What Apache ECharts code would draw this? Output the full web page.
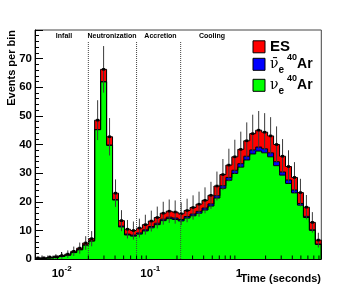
<!DOCTYPE html>
<html>
<head>
<meta charset="utf-8">
<script src="https://cdn.jsdelivr.net/npm/echarts@6/dist/echarts.min.js"></script>
<style>
html,body{margin:0;padding:0;background:#ffffff;}
#c{width:357px;height:302px;}
</style>
</head>
<body>
<div id="c"></div>
<script>
// ---- data ----
// bin edges of the log-spaced time histogram (seconds)
const binEdges = [0.005, 0.005838, 0.006817, 0.007960, 0.009294, 0.01085, 0.01267, 0.01479, 0.01727, 0.02017,
  0.02355, 0.02750, 0.03211, 0.03749, 0.04378, 0.05111, 0.05968, 0.06969, 0.08137, 0.09501,
  0.1109, 0.1295, 0.1512, 0.1766, 0.2062, 0.2408, 0.2811, 0.3282, 0.3833, 0.4475,
  0.5225, 0.6101, 0.7124, 0.8318, 0.9712, 1.134, 1.324, 1.546, 1.805, 2.108,
  2.461, 2.874, 3.356, 3.918, 4.575, 5.342, 6.237, 7.283, 8.503];
// events per bin, nu_e 40Ar (green)
const nueAr = [0.25, 0.25, 0.45, 0.6, 0.9, 1.35, 2.25, 3.25, 4.9, 6.3,
  45.2, 61.9, 39.7, 20.6, 11.2, 8.4, 8.0, 8.7, 9.8, 10.9,
  12.0, 13.4, 14.1, 13.8, 13.3, 14.3, 15.1, 16.0, 17.1, 18.5,
  21.3, 24.7, 27.5, 29.9, 32.1, 34.6, 36.7, 37.7, 37.1, 35.7,
  32.6, 29.3, 26.4, 23.1, 18.8, 14.5, 10.0, 5.1];
// events per bin, anti-nu_e 40Ar (blue)
const nuebarAr = [0, 0, 0, 0, 0, 0, 0, 0, 0, 0,
  0, 0.05, 0.1, 0.2, 0.3, 0.3, 0.35, 0.4, 0.4, 0.45,
  0.5, 0.5, 0.5, 0.5, 0.5, 0.55, 0.6, 0.65, 0.7, 0.75,
  0.8, 0.9, 1.0, 1.1, 1.2, 1.3, 1.4, 1.4, 1.4, 1.4,
  1.4, 1.1, 1.2, 1.0, 0.6, 0.4, 0.2, 0.1];
// events per bin, elastic scattering (red)
const esEv = [0.1, 0.1, 0.15, 0.2, 0.3, 0.35, 0.45, 0.55, 0.7, 0.8,
  3.3, 4.3, 2.9, 2.2, 1.9, 1.7, 1.6, 1.7, 1.8, 1.9,
  2.0, 2.1, 2.1, 2.1, 2.0, 2.1, 2.3, 2.5, 2.7, 3.0,
  3.4, 3.9, 4.3, 4.7, 5.0, 5.4, 5.7, 5.9, 5.8, 5.9,
  6.0, 5.5, 4.7, 4.4, 3.8, 3.2, 2.6, 1.4];
// phase boundaries (seconds) and phase names
const phaseBounds = [0.02, 0.07, 0.22];
const phaseNames = ['Infall', 'Neutronization', 'Accretion', 'Cooling'];
// axis ticks
const yTicks = [0, 10, 20, 30, 40, 50, 60, 70, 80];
const xMajorTicks = [0.01, 0.1, 1];
const xMinorTicks = [0.006, 0.007, 0.008, 0.009,
  0.02, 0.03, 0.04, 0.05, 0.06, 0.07, 0.08, 0.09,
  0.2, 0.3, 0.4, 0.5, 0.6, 0.7, 0.8, 0.9,
  2, 3, 4, 5, 6, 7, 8];
const seriesNames = ['ES', 'ν\u0304e 40Ar', 'νe 40Ar'];
const xTitle = 'Time (seconds)';
const yTitle = 'Events per bin';

// ---- chart ----
const FONT = 'Liberation Sans';
const nBins = nueAr.length;
const zeroLvl = nueAr.map(function () { return 0; });
const lvlG = nueAr.slice();
const lvlB = lvlG.map(function (v, i) { return v + nuebarAr[i]; });
const lvlR = lvlB.map(function (v, i) { return v + esEv[i]; });

function bandSeries(name, color, lo, hi) {
  return {
    type: 'custom', name: name, coordinateSystem: 'cartesian2d', clip: true, silent: true,
    itemStyle: { color: color },
    data: [[binEdges[0], 0]],
    renderItem: function (params, api) {
      const pts = [];
      for (let i = 0; i < nBins; i++) {
        pts.push(api.coord([binEdges[i], hi[i]]));
        pts.push(api.coord([binEdges[i + 1], hi[i]]));
      }
      for (let i = nBins - 1; i >= 0; i--) {
        pts.push(api.coord([binEdges[i + 1], lo[i]]));
        pts.push(api.coord([binEdges[i], lo[i]]));
      }
      return { type: 'polygon', shape: { points: pts }, style: { fill: color } };
    }
  };
}

const outlineSeries = {
  type: 'custom', name: 'outline', coordinateSystem: 'cartesian2d', clip: true, silent: true,
  data: [[binEdges[0], 0]],
  renderItem: function (params, api) {
    const children = [lvlG, lvlB, lvlR].map(function (L) {
      const pts = [api.coord([binEdges[0], 0])];
      for (let i = 0; i < nBins; i++) {
        pts.push(api.coord([binEdges[i], L[i]]));
        pts.push(api.coord([binEdges[i + 1], L[i]]));
      }
      pts.push(api.coord([binEdges[nBins], 0]));
      return { type: 'polyline', shape: { points: pts }, style: { stroke: '#000', lineWidth: 1, fill: null } };
    });
    return { type: 'group', children: children };
  }
};

const errorSeries = {
  type: 'custom', name: 'errors', coordinateSystem: 'cartesian2d', clip: true, silent: true,
  data: lvlR.map(function (t, i) { return [Math.sqrt(binEdges[i] * binEdges[i + 1]), t]; }),
  renderItem: function (params, api) {
    const xc = api.value(0), t = api.value(1), e = Math.sqrt(t);
    const top = api.coord([xc, t + e]);
    const bot = api.coord([xc, Math.max(0, t - e)]);
    const c = api.coord([xc, t]);
    return {
      type: 'group', children: [
        { type: 'line', shape: { x1: c[0], y1: top[1], x2: c[0], y2: bot[1] }, style: { stroke: '#3a3a3a', lineWidth: 1 } },
        { type: 'rect', shape: { x: c[0] - 1.5, y: c[1] - 1.3, width: 3, height: 2.6 }, style: { fill: '#000' } }
      ]
    };
  }
};

const phaseLineSeries = {
  type: 'custom', name: 'phases', coordinateSystem: 'cartesian2d', clip: true, silent: true,
  data: phaseBounds.map(function (t) { return [t, 76]; }),
  renderItem: function (params, api) {
    const a = api.coord([api.value(0), 0]);
    const b = api.coord([api.value(0), api.value(1)]);
    return { type: 'line', shape: { x1: a[0], y1: a[1], x2: b[0], y2: b[1] }, style: { stroke: '#444', lineWidth: 1, lineDash: [1, 1] } };
  }
};

const minorTickSeries = {
  type: 'custom', name: 'xminor', coordinateSystem: 'cartesian2d', clip: false, silent: true,
  data: xMinorTicks.map(function (t) { return [t, 0]; }),
  renderItem: function (params, api) {
    const a = api.coord([api.value(0), 0]);
    return { type: 'line', shape: { x1: a[0], y1: a[1], x2: a[0], y2: a[1] - 3.5 }, style: { stroke: '#000', lineWidth: 1 } };
  }
};

const option = {
  animation: false,
  backgroundColor: '#ffffff',
  grid: { left: 35, top: 30, right: 35.7, bottom: 43, containLabel: false, show: true, borderColor: '#444', borderWidth: 1, backgroundColor: 'transparent' },
  xAxis: {
    type: 'log', logBase: 10, min: 0.005, max: 8.5,
    axisLine: { show: true, lineStyle: { color: '#000', width: 1 } },
    axisTick: { show: true, inside: true, length: 7, lineStyle: { color: '#000', width: 1 } },
    minorTick: { show: false },
    splitLine: { show: false },
    axisLabel: {
      show: true, margin: 6, showMinLabel: false, showMaxLabel: false, color: '#000',
      formatter: function (v) {
        const ex = Math.round(Math.log10(v));
        let hit = false;
        for (let k = 0; k < xMajorTicks.length; k++) { if (Math.abs(v / xMajorTicks[k] - 1) < 1e-6) hit = true; }
        if (!hit) return '';
        if (ex === 0) return '{b|1}';
        return '{b|10}{s|' + ex + '}';
      },
      rich: {
        b: { fontFamily: FONT, fontWeight: 'bold', fontSize: 11.5, color: '#000', lineHeight: 15, verticalAlign: 'bottom' },
        s: { fontFamily: FONT, fontWeight: 'bold', fontSize: 8, color: '#000', lineHeight: 8, verticalAlign: 'top' }
      }
    }
  },
  yAxis: {
    type: 'value', min: yTicks[0], max: yTicks[yTicks.length - 1], interval: yTicks[1] - yTicks[0],
    axisLine: { show: true, lineStyle: { color: '#000', width: 1 } },
    axisTick: { show: true, inside: true, length: 8, lineStyle: { color: '#000', width: 1 } },
    minorTick: { show: true, splitNumber: 5, length: 4, lineStyle: { color: '#000', width: 1 } },
    splitLine: { show: false },
    axisLabel: { show: true, margin: 3, showMaxLabel: false, color: '#000', fontFamily: FONT, fontWeight: 'bold', fontSize: 11.5 }
  },
  legend: {
    show: true, orient: 'vertical', left: 252.5, top: 39.3, padding: 0, itemGap: -1.0,
    itemWidth: 12, itemHeight: 12, icon: 'rect', selectedMode: false,
    itemStyle: { borderColor: '#000', borderWidth: 1 },
    data: seriesNames,
    formatter: function (name) {
      if (name === seriesNames[0]) return '{es|ES}';
      if (name === seriesNames[1]) return '{nu|ν\u0304}{sub|e}{sup|40}{ar|Ar}';
      return '{nu|ν}{sub|e}{sup|40}{ar|Ar}';
    },
    textStyle: {
      color: '#000',
      rich: {
        es: { fontFamily: FONT, fontWeight: 'bold', fontSize: 15, color: '#000', lineHeight: 22 },
        nu: { fontFamily: 'DejaVu Serif', fontSize: 14, color: '#000', lineHeight: 22 },
        sub: { fontFamily: FONT, fontWeight: 'bold', fontSize: 10, color: '#000', lineHeight: 13, verticalAlign: 'bottom' },
        sup: { fontFamily: FONT, fontWeight: 'bold', fontSize: 9, color: '#000', lineHeight: 9, verticalAlign: 'top', padding: [0, 0, 0, 3] },
        ar: { fontFamily: FONT, fontWeight: 'bold', fontSize: 14, color: '#000', lineHeight: 22 }
      }
    }
  },
  graphic: [
    { type: 'text', x: 12, y: 30, rotation: Math.PI / 2, silent: true,
      style: { text: yTitle, fill: '#000', font: 'bold 11px "Liberation Sans"', align: 'right', verticalAlign: 'middle' } },
    { type: 'text', x: 321, y: 273.5, silent: true,
      style: { text: xTitle, fill: '#000', font: 'bold 11px "Liberation Sans"', align: 'right', verticalAlign: 'top' } },
    { type: 'text', x: 64, y: 36, silent: true, style: { text: phaseNames[0], fill: '#000', font: 'bold 7px "Liberation Sans"', align: 'center', verticalAlign: 'middle' } },
    { type: 'text', x: 112, y: 36, silent: true, style: { text: phaseNames[1], fill: '#000', font: 'bold 7px "Liberation Sans"', align: 'center', verticalAlign: 'middle' } },
    { type: 'text', x: 160.5, y: 36, silent: true, style: { text: phaseNames[2], fill: '#000', font: 'bold 7px "Liberation Sans"', align: 'center', verticalAlign: 'middle' } },
    { type: 'text', x: 212, y: 36, silent: true, style: { text: phaseNames[3], fill: '#000', font: 'bold 7px "Liberation Sans"', align: 'center', verticalAlign: 'middle' } }
  ],
  series: [
    bandSeries(seriesNames[2], '#00ff00', zeroLvl, lvlG),
    bandSeries(seriesNames[1], '#0000ff', lvlG, lvlB),
    bandSeries(seriesNames[0], '#ff0000', lvlB, lvlR),
    outlineSeries,
    errorSeries,
    phaseLineSeries,
    minorTickSeries
  ]
};

const chart = echarts.init(document.getElementById('c'), null, { renderer: 'canvas', width: 357, height: 302 });
chart.setOption(option);
</script>
</body>
</html>
